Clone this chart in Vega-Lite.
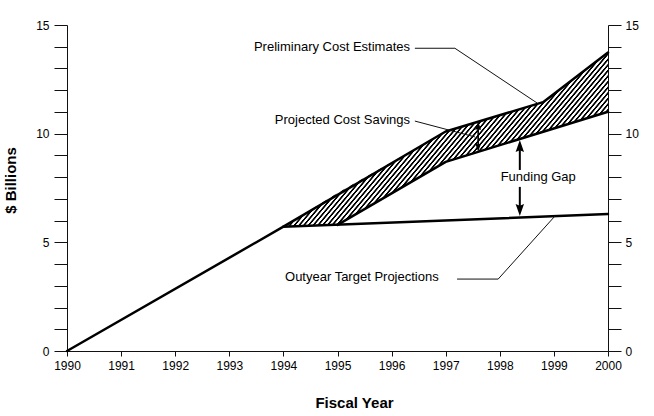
{
  "$schema": "https://vega.github.io/schema/vega-lite/v6.json",
  "width": 541,
  "height": 326,
  "autosize": {"type": "none"},
  "padding": {"left": 67, "top": 25, "right": 46, "bottom": 65},
  "background": "#ffffff",
  "config": {"view": {"stroke": null}, "font": "Liberation Sans"},
  "resolve": {"axis": {"y": "independent"}},
  "encoding": {
    "x": {"field": "x", "type": "quantitative", "scale": {"domain": [1990, 2000], "nice": false, "zero": false},
      "axis": {"values": [1990,1991,1992,1993,1994,1995,1996,1997,1998,1999,2000], "format": "d", "grid": false,
        "tickSize": 5, "tickColor": "#111", "domainColor": "#111", "labelPadding": 4, "labelFlush": false, "labelOverlap": false,
        "labelFont": "Liberation Sans", "labelFontSize": 12, "labelColor": "#000",
        "title": "Fiscal Year", "titleFont": "Liberation Sans", "titleFontSize": 15, "titleFontWeight": "bold", "titleColor": "#000",
        "titleX": 287, "titleY": 51.5, "titleBaseline": "middle", "titleAlign": "center"}},
    "y": {"field": "y", "type": "quantitative", "scale": {"domain": [0, 15], "nice": false, "zero": false}, "axis": null}
  },
  "layer": [
    {
      "data": {"values": [
        {"x": 1994, "y": 5.72, "y2": 5.72},
        {"x": 1995, "y": 5.8, "y2": 7.27},
        {"x": 1997, "y": 8.7, "y2": 10.1},
        {"x": 1998.8, "y": 10.05, "y2": 11.45},
        {"x": 2000, "y": 11.01, "y2": 13.73}
      ]},
      "mark": {"type": "area", "fill": {"gradient": "linear", "x1": 0, "y1": 0, "x2": 1.206, "y2": 0.543, "stops": [
{"offset":0,"color":"#000"},{"offset":0.003,"color":"#000"},{"offset":0.0045,"color":"#fff"},{"offset":0.0085,"color":"#fff"},
{"offset":0.01,"color":"#000"},{"offset":0.013,"color":"#000"},{"offset":0.0145,"color":"#fff"},{"offset":0.0185,"color":"#fff"},
{"offset":0.02,"color":"#000"},{"offset":0.023,"color":"#000"},{"offset":0.0245,"color":"#fff"},{"offset":0.0285,"color":"#fff"},
{"offset":0.03,"color":"#000"},{"offset":0.033,"color":"#000"},{"offset":0.0345,"color":"#fff"},{"offset":0.0385,"color":"#fff"},
{"offset":0.04,"color":"#000"},{"offset":0.043,"color":"#000"},{"offset":0.0445,"color":"#fff"},{"offset":0.0485,"color":"#fff"},
{"offset":0.05,"color":"#000"},{"offset":0.053,"color":"#000"},{"offset":0.0545,"color":"#fff"},{"offset":0.0585,"color":"#fff"},
{"offset":0.06,"color":"#000"},{"offset":0.063,"color":"#000"},{"offset":0.0645,"color":"#fff"},{"offset":0.0685,"color":"#fff"},
{"offset":0.07,"color":"#000"},{"offset":0.073,"color":"#000"},{"offset":0.0745,"color":"#fff"},{"offset":0.0785,"color":"#fff"},
{"offset":0.08,"color":"#000"},{"offset":0.083,"color":"#000"},{"offset":0.0845,"color":"#fff"},{"offset":0.0885,"color":"#fff"},
{"offset":0.09,"color":"#000"},{"offset":0.093,"color":"#000"},{"offset":0.0945,"color":"#fff"},{"offset":0.0985,"color":"#fff"},
{"offset":0.10,"color":"#000"},{"offset":0.103,"color":"#000"},{"offset":0.1045,"color":"#fff"},{"offset":0.1085,"color":"#fff"},
{"offset":0.11,"color":"#000"},{"offset":0.113,"color":"#000"},{"offset":0.1145,"color":"#fff"},{"offset":0.1185,"color":"#fff"},
{"offset":0.12,"color":"#000"},{"offset":0.123,"color":"#000"},{"offset":0.1245,"color":"#fff"},{"offset":0.1285,"color":"#fff"},
{"offset":0.13,"color":"#000"},{"offset":0.133,"color":"#000"},{"offset":0.1345,"color":"#fff"},{"offset":0.1385,"color":"#fff"},
{"offset":0.14,"color":"#000"},{"offset":0.143,"color":"#000"},{"offset":0.1445,"color":"#fff"},{"offset":0.1485,"color":"#fff"},
{"offset":0.15,"color":"#000"},{"offset":0.153,"color":"#000"},{"offset":0.1545,"color":"#fff"},{"offset":0.1585,"color":"#fff"},
{"offset":0.16,"color":"#000"},{"offset":0.163,"color":"#000"},{"offset":0.1645,"color":"#fff"},{"offset":0.1685,"color":"#fff"},
{"offset":0.17,"color":"#000"},{"offset":0.173,"color":"#000"},{"offset":0.1745,"color":"#fff"},{"offset":0.1785,"color":"#fff"},
{"offset":0.18,"color":"#000"},{"offset":0.183,"color":"#000"},{"offset":0.1845,"color":"#fff"},{"offset":0.1885,"color":"#fff"},
{"offset":0.19,"color":"#000"},{"offset":0.193,"color":"#000"},{"offset":0.1945,"color":"#fff"},{"offset":0.1985,"color":"#fff"},
{"offset":0.20,"color":"#000"},{"offset":0.203,"color":"#000"},{"offset":0.2045,"color":"#fff"},{"offset":0.2085,"color":"#fff"},
{"offset":0.21,"color":"#000"},{"offset":0.213,"color":"#000"},{"offset":0.2145,"color":"#fff"},{"offset":0.2185,"color":"#fff"},
{"offset":0.22,"color":"#000"},{"offset":0.223,"color":"#000"},{"offset":0.2245,"color":"#fff"},{"offset":0.2285,"color":"#fff"},
{"offset":0.23,"color":"#000"},{"offset":0.233,"color":"#000"},{"offset":0.2345,"color":"#fff"},{"offset":0.2385,"color":"#fff"},
{"offset":0.24,"color":"#000"},{"offset":0.243,"color":"#000"},{"offset":0.2445,"color":"#fff"},{"offset":0.2485,"color":"#fff"},
{"offset":0.25,"color":"#000"},{"offset":0.253,"color":"#000"},{"offset":0.2545,"color":"#fff"},{"offset":0.2585,"color":"#fff"},
{"offset":0.26,"color":"#000"},{"offset":0.263,"color":"#000"},{"offset":0.2645,"color":"#fff"},{"offset":0.2685,"color":"#fff"},
{"offset":0.27,"color":"#000"},{"offset":0.273,"color":"#000"},{"offset":0.2745,"color":"#fff"},{"offset":0.2785,"color":"#fff"},
{"offset":0.28,"color":"#000"},{"offset":0.283,"color":"#000"},{"offset":0.2845,"color":"#fff"},{"offset":0.2885,"color":"#fff"},
{"offset":0.29,"color":"#000"},{"offset":0.293,"color":"#000"},{"offset":0.2945,"color":"#fff"},{"offset":0.2985,"color":"#fff"},
{"offset":0.30,"color":"#000"},{"offset":0.303,"color":"#000"},{"offset":0.3045,"color":"#fff"},{"offset":0.3085,"color":"#fff"},
{"offset":0.31,"color":"#000"},{"offset":0.313,"color":"#000"},{"offset":0.3145,"color":"#fff"},{"offset":0.3185,"color":"#fff"},
{"offset":0.32,"color":"#000"},{"offset":0.323,"color":"#000"},{"offset":0.3245,"color":"#fff"},{"offset":0.3285,"color":"#fff"},
{"offset":0.33,"color":"#000"},{"offset":0.333,"color":"#000"},{"offset":0.3345,"color":"#fff"},{"offset":0.3385,"color":"#fff"},
{"offset":0.34,"color":"#000"},{"offset":0.343,"color":"#000"},{"offset":0.3445,"color":"#fff"},{"offset":0.3485,"color":"#fff"},
{"offset":0.35,"color":"#000"},{"offset":0.353,"color":"#000"},{"offset":0.3545,"color":"#fff"},{"offset":0.3585,"color":"#fff"},
{"offset":0.36,"color":"#000"},{"offset":0.363,"color":"#000"},{"offset":0.3645,"color":"#fff"},{"offset":0.3685,"color":"#fff"},
{"offset":0.37,"color":"#000"},{"offset":0.373,"color":"#000"},{"offset":0.3745,"color":"#fff"},{"offset":0.3785,"color":"#fff"},
{"offset":0.38,"color":"#000"},{"offset":0.383,"color":"#000"},{"offset":0.3845,"color":"#fff"},{"offset":0.3885,"color":"#fff"},
{"offset":0.39,"color":"#000"},{"offset":0.393,"color":"#000"},{"offset":0.3945,"color":"#fff"},{"offset":0.3985,"color":"#fff"},
{"offset":0.40,"color":"#000"},{"offset":0.403,"color":"#000"},{"offset":0.4045,"color":"#fff"},{"offset":0.4085,"color":"#fff"},
{"offset":0.41,"color":"#000"},{"offset":0.413,"color":"#000"},{"offset":0.4145,"color":"#fff"},{"offset":0.4185,"color":"#fff"},
{"offset":0.42,"color":"#000"},{"offset":0.423,"color":"#000"},{"offset":0.4245,"color":"#fff"},{"offset":0.4285,"color":"#fff"},
{"offset":0.43,"color":"#000"},{"offset":0.433,"color":"#000"},{"offset":0.4345,"color":"#fff"},{"offset":0.4385,"color":"#fff"},
{"offset":0.44,"color":"#000"},{"offset":0.443,"color":"#000"},{"offset":0.4445,"color":"#fff"},{"offset":0.4485,"color":"#fff"},
{"offset":0.45,"color":"#000"},{"offset":0.453,"color":"#000"},{"offset":0.4545,"color":"#fff"},{"offset":0.4585,"color":"#fff"},
{"offset":0.46,"color":"#000"},{"offset":0.463,"color":"#000"},{"offset":0.4645,"color":"#fff"},{"offset":0.4685,"color":"#fff"},
{"offset":0.47,"color":"#000"},{"offset":0.473,"color":"#000"},{"offset":0.4745,"color":"#fff"},{"offset":0.4785,"color":"#fff"},
{"offset":0.48,"color":"#000"},{"offset":0.483,"color":"#000"},{"offset":0.4845,"color":"#fff"},{"offset":0.4885,"color":"#fff"},
{"offset":0.49,"color":"#000"},{"offset":0.493,"color":"#000"},{"offset":0.4945,"color":"#fff"},{"offset":0.4985,"color":"#fff"},
{"offset":0.50,"color":"#000"},{"offset":0.503,"color":"#000"},{"offset":0.5045,"color":"#fff"},{"offset":0.5085,"color":"#fff"},
{"offset":0.51,"color":"#000"},{"offset":0.513,"color":"#000"},{"offset":0.5145,"color":"#fff"},{"offset":0.5185,"color":"#fff"},
{"offset":0.52,"color":"#000"},{"offset":0.523,"color":"#000"},{"offset":0.5245,"color":"#fff"},{"offset":0.5285,"color":"#fff"},
{"offset":0.53,"color":"#000"},{"offset":0.533,"color":"#000"},{"offset":0.5345,"color":"#fff"},{"offset":0.5385,"color":"#fff"},
{"offset":0.54,"color":"#000"},{"offset":0.543,"color":"#000"},{"offset":0.5445,"color":"#fff"},{"offset":0.5485,"color":"#fff"},
{"offset":0.55,"color":"#000"},{"offset":0.553,"color":"#000"},{"offset":0.5545,"color":"#fff"},{"offset":0.5585,"color":"#fff"},
{"offset":0.56,"color":"#000"},{"offset":0.563,"color":"#000"},{"offset":0.5645,"color":"#fff"},{"offset":0.5685,"color":"#fff"},
{"offset":0.57,"color":"#000"},{"offset":0.573,"color":"#000"},{"offset":0.5745,"color":"#fff"},{"offset":0.5785,"color":"#fff"},
{"offset":0.58,"color":"#000"},{"offset":0.583,"color":"#000"},{"offset":0.5845,"color":"#fff"},{"offset":0.5885,"color":"#fff"},
{"offset":0.59,"color":"#000"},{"offset":0.593,"color":"#000"},{"offset":0.5945,"color":"#fff"},{"offset":0.5985,"color":"#fff"},
{"offset":0.60,"color":"#000"},{"offset":0.603,"color":"#000"},{"offset":0.6045,"color":"#fff"},{"offset":0.6085,"color":"#fff"},
{"offset":0.61,"color":"#000"},{"offset":0.613,"color":"#000"},{"offset":0.6145,"color":"#fff"},{"offset":0.6185,"color":"#fff"},
{"offset":0.62,"color":"#000"},{"offset":0.623,"color":"#000"},{"offset":0.6245,"color":"#fff"},{"offset":0.6285,"color":"#fff"},
{"offset":0.63,"color":"#000"},{"offset":0.633,"color":"#000"},{"offset":0.6345,"color":"#fff"},{"offset":0.6385,"color":"#fff"},
{"offset":0.64,"color":"#000"},{"offset":0.643,"color":"#000"},{"offset":0.6445,"color":"#fff"},{"offset":0.6485,"color":"#fff"},
{"offset":0.65,"color":"#000"},{"offset":0.653,"color":"#000"},{"offset":0.6545,"color":"#fff"},{"offset":0.6585,"color":"#fff"},
{"offset":0.66,"color":"#000"},{"offset":0.663,"color":"#000"},{"offset":0.6645,"color":"#fff"},{"offset":0.6685,"color":"#fff"},
{"offset":0.67,"color":"#000"},{"offset":0.673,"color":"#000"},{"offset":0.6745,"color":"#fff"},{"offset":0.6785,"color":"#fff"},
{"offset":0.68,"color":"#000"},{"offset":0.683,"color":"#000"},{"offset":0.6845,"color":"#fff"},{"offset":0.6885,"color":"#fff"},
{"offset":0.69,"color":"#000"},{"offset":0.693,"color":"#000"},{"offset":0.6945,"color":"#fff"},{"offset":0.6985,"color":"#fff"},
{"offset":0.70,"color":"#000"},{"offset":0.703,"color":"#000"},{"offset":0.7045,"color":"#fff"},{"offset":0.7085,"color":"#fff"},
{"offset":0.71,"color":"#000"},{"offset":0.713,"color":"#000"},{"offset":0.7145,"color":"#fff"},{"offset":0.7185,"color":"#fff"},
{"offset":0.72,"color":"#000"},{"offset":0.723,"color":"#000"},{"offset":0.7245,"color":"#fff"},{"offset":0.7285,"color":"#fff"},
{"offset":0.73,"color":"#000"},{"offset":0.733,"color":"#000"},{"offset":0.7345,"color":"#fff"},{"offset":0.7385,"color":"#fff"},
{"offset":0.74,"color":"#000"},{"offset":0.743,"color":"#000"},{"offset":0.7445,"color":"#fff"},{"offset":0.7485,"color":"#fff"},
{"offset":0.75,"color":"#000"},{"offset":0.753,"color":"#000"},{"offset":0.7545,"color":"#fff"},{"offset":0.7585,"color":"#fff"},
{"offset":0.76,"color":"#000"},{"offset":0.763,"color":"#000"},{"offset":0.7645,"color":"#fff"},{"offset":0.7685,"color":"#fff"},
{"offset":0.77,"color":"#000"},{"offset":0.773,"color":"#000"},{"offset":0.7745,"color":"#fff"},{"offset":0.7785,"color":"#fff"},
{"offset":0.78,"color":"#000"},{"offset":0.783,"color":"#000"},{"offset":0.7845,"color":"#fff"},{"offset":0.7885,"color":"#fff"},
{"offset":0.79,"color":"#000"},{"offset":0.793,"color":"#000"},{"offset":0.7945,"color":"#fff"},{"offset":0.7985,"color":"#fff"},
{"offset":0.80,"color":"#000"},{"offset":0.803,"color":"#000"},{"offset":0.8045,"color":"#fff"},{"offset":0.8085,"color":"#fff"},
{"offset":0.81,"color":"#000"},{"offset":0.813,"color":"#000"},{"offset":0.8145,"color":"#fff"},{"offset":0.8185,"color":"#fff"},
{"offset":0.82,"color":"#000"},{"offset":0.823,"color":"#000"},{"offset":0.8245,"color":"#fff"},{"offset":0.8285,"color":"#fff"},
{"offset":0.83,"color":"#000"},{"offset":0.833,"color":"#000"},{"offset":0.8345,"color":"#fff"},{"offset":0.8385,"color":"#fff"},
{"offset":0.84,"color":"#000"},{"offset":0.843,"color":"#000"},{"offset":0.8445,"color":"#fff"},{"offset":0.8485,"color":"#fff"},
{"offset":0.85,"color":"#000"},{"offset":0.853,"color":"#000"},{"offset":0.8545,"color":"#fff"},{"offset":0.8585,"color":"#fff"},
{"offset":0.86,"color":"#000"},{"offset":0.863,"color":"#000"},{"offset":0.8645,"color":"#fff"},{"offset":0.8685,"color":"#fff"},
{"offset":0.87,"color":"#000"},{"offset":0.873,"color":"#000"},{"offset":0.8745,"color":"#fff"},{"offset":0.8785,"color":"#fff"},
{"offset":0.88,"color":"#000"},{"offset":0.883,"color":"#000"},{"offset":0.8845,"color":"#fff"},{"offset":0.8885,"color":"#fff"},
{"offset":0.89,"color":"#000"},{"offset":0.893,"color":"#000"},{"offset":0.8945,"color":"#fff"},{"offset":0.8985,"color":"#fff"},
{"offset":0.90,"color":"#000"},{"offset":0.903,"color":"#000"},{"offset":0.9045,"color":"#fff"},{"offset":0.9085,"color":"#fff"},
{"offset":0.91,"color":"#000"},{"offset":0.913,"color":"#000"},{"offset":0.9145,"color":"#fff"},{"offset":0.9185,"color":"#fff"},
{"offset":0.92,"color":"#000"},{"offset":0.923,"color":"#000"},{"offset":0.9245,"color":"#fff"},{"offset":0.9285,"color":"#fff"},
{"offset":0.93,"color":"#000"},{"offset":0.933,"color":"#000"},{"offset":0.9345,"color":"#fff"},{"offset":0.9385,"color":"#fff"},
{"offset":0.94,"color":"#000"},{"offset":0.943,"color":"#000"},{"offset":0.9445,"color":"#fff"},{"offset":0.9485,"color":"#fff"},
{"offset":0.95,"color":"#000"},{"offset":0.953,"color":"#000"},{"offset":0.9545,"color":"#fff"},{"offset":0.9585,"color":"#fff"},
{"offset":0.96,"color":"#000"},{"offset":0.963,"color":"#000"},{"offset":0.9645,"color":"#fff"},{"offset":0.9685,"color":"#fff"},
{"offset":0.97,"color":"#000"},{"offset":0.973,"color":"#000"},{"offset":0.9745,"color":"#fff"},{"offset":0.9785,"color":"#fff"},
{"offset":0.98,"color":"#000"},{"offset":0.983,"color":"#000"},{"offset":0.9845,"color":"#fff"},{"offset":0.9885,"color":"#fff"},
{"offset":0.99,"color":"#000"},{"offset":0.993,"color":"#000"},{"offset":0.9945,"color":"#fff"},{"offset":0.9985,"color":"#fff"}
      ]}},
      "encoding": {"y2": {"field": "y2"}}
    },
    {
      "data": {"values": [
        {"series": "base", "x": 1990, "y": 0},
        {"series": "base", "x": 1994, "y": 5.72},
        {"series": "base", "x": 2000, "y": 6.3},
        {"series": "upper", "x": 1994, "y": 5.72},
        {"series": "upper", "x": 1997, "y": 10.1},
        {"series": "upper", "x": 1998.8, "y": 11.45},
        {"series": "upper", "x": 2000, "y": 13.73},
        {"series": "lower", "x": 1995, "y": 5.8},
        {"series": "lower", "x": 1997, "y": 8.7},
        {"series": "lower", "x": 2000, "y": 11.01}
      ]},
      "mark": {"type": "line", "color": "#000", "strokeWidth": 2.5, "strokeJoin": "round", "strokeCap": "round"},
      "encoding": {
        "detail": {"field": "series"},
        "y": {"field": "y", "type": "quantitative", "scale": {"domain": [0, 15], "nice": false, "zero": false},
          "axis": {"orient": "left", "values": [0,1,2,3,4,5,6,7,8,9,10,11,12,13,14,15],
            "labelExpr": "datum.value % 5 === 0 ? datum.label : ''", "grid": false,
            "tickSize": 13, "tickColor": "#111", "domainColor": "#111", "labelPadding": 5, "labelFlush": false, "labelOverlap": false,
            "labelFont": "Liberation Sans", "labelFontSize": 12, "labelColor": "#000",
            "title": "$ Billions", "titleFont": "Liberation Sans", "titleFontSize": 15, "titleFontWeight": "bold", "titleColor": "#000",
            "titleX": -57, "titleY": 155, "titleBaseline": "middle", "titleAlign": "center", "titleAngle": 270}}
      }
    },
    {
      "data": {"values": [
        {"id": "pce", "x": 1996.43, "y": 13.93},
        {"id": "pce", "x": 1997.17, "y": 13.93},
        {"id": "pce", "x": 1998.69, "y": 11.41},
        {"id": "pcs", "x": 1996.43, "y": 10.58},
        {"id": "pcs", "x": 1997.54, "y": 9.85},
        {"id": "oty", "x": 1997.21, "y": 3.31},
        {"id": "oty", "x": 1997.97, "y": 3.31},
        {"id": "oty", "x": 1999.02, "y": 6.21}
      ]},
      "mark": {"type": "line", "color": "#111", "strokeWidth": 1},
      "encoding": {"detail": {"field": "id"}}
    },
    {
      "data": {"values": [
        {"x": 1998.37, "y": 8.33, "y2": 9.45},
        {"x": 1998.37, "y": 7.55, "y2": 6.5}
      ]},
      "mark": {"type": "rule", "color": "#000", "strokeWidth": 2},
      "encoding": {"y2": {"field": "y2"}}
    },
    {
      "data": {"values": [
        {"x": 1997.6, "y": 9.35, "y2": 10.37}
      ]},
      "mark": {"type": "rule", "color": "#000", "strokeWidth": 1.6},
      "encoding": {"y2": {"field": "y2"}}
    },
    {
      "data": {"values": [{"x": 1998.37, "y": 9.43}]},
      "mark": {"type": "point", "shape": "M0,-1L0.7,1L0,0.7L-0.7,1Z", "filled": true, "color": "#000", "opacity": 1, "size": 144, "strokeWidth": 0},
      "encoding": {}
    },
    {
      "data": {"values": [{"x": 1998.37, "y": 6.49}]},
      "mark": {"type": "point", "shape": "M0,1L0.7,-1L0,-0.7L-0.7,-1Z", "filled": true, "color": "#000", "opacity": 1, "size": 144, "strokeWidth": 0},
      "encoding": {}
    },
    {
      "data": {"values": [{"x": 1997.6, "y": 10.36}]},
      "mark": {"type": "point", "shape": "M0,-1L0.7,1L0,0.7L-0.7,1Z", "filled": true, "color": "#000", "opacity": 1, "size": 72, "strokeWidth": 0},
      "encoding": {}
    },
    {
      "data": {"values": [{"x": 1997.6, "y": 9.36}]},
      "mark": {"type": "point", "shape": "M0,1L0.7,-1L0,-0.7L-0.7,-1Z", "filled": true, "color": "#000", "opacity": 1, "size": 72, "strokeWidth": 0},
      "encoding": {}
    },
    {
      "data": {"values": [
        {"x": 1996.34, "y": 13.99, "label": "Preliminary Cost Estimates"},
        {"x": 1996.34, "y": 10.63, "label": "Projected Cost Savings"}
      ]},
      "mark": {"type": "text", "align": "right", "baseline": "middle", "font": "Liberation Sans", "fontSize": 13, "color": "#000"},
      "encoding": {"text": {"field": "label"}}
    },
    {
      "data": {"values": [
        {"x": 1998.71, "y": 8.01, "label": "Funding Gap"}
      ]},
      "mark": {"type": "text", "align": "center", "baseline": "middle", "font": "Liberation Sans", "fontSize": 13, "color": "#000"},
      "encoding": {"text": {"field": "label"}}
    },
    {
      "data": {"values": [
        {"x": 1994.03, "y": 3.41, "label": "Outyear Target Projections"}
      ]},
      "mark": {"type": "text", "align": "left", "baseline": "middle", "font": "Liberation Sans", "fontSize": 13, "color": "#000"},
      "encoding": {
        "text": {"field": "label"},
        "y": {"field": "y", "type": "quantitative", "scale": {"domain": [0, 15], "nice": false, "zero": false},
          "axis": {"orient": "right", "values": [0,1,2,3,4,5,6,7,8,9,10,11,12,13,14,15],
            "labelExpr": "datum.value % 5 === 0 ? datum.label : ''", "grid": false,
            "tickSize": 13, "tickColor": "#111", "domainColor": "#111", "labelPadding": 4, "labelFlush": false, "labelOverlap": false,
            "labelFont": "Liberation Sans", "labelFontSize": 12, "labelColor": "#000", "title": null}}
      }
    }
  ]
}
